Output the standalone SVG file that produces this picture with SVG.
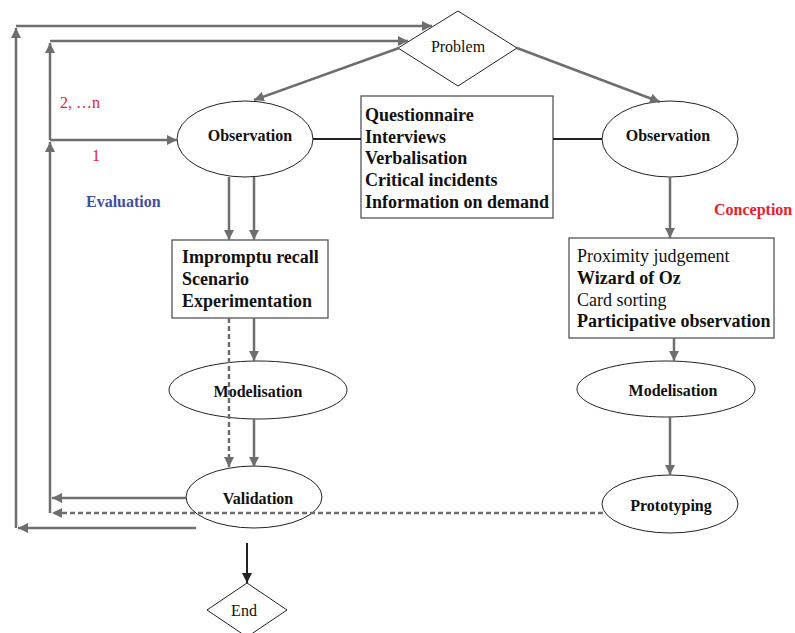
<svg xmlns="http://www.w3.org/2000/svg" width="795" height="633" viewBox="0 0 795 633">
  <style>
    .ln { fill: none; stroke: #6e6e6e; stroke-width: 2.5; }
    .dash { stroke-dasharray: 5 3; }
    .link { fill: none; stroke: #222; stroke-width: 2; }
    .node { fill: #fff; stroke: #222; stroke-width: 1; }
    .box { fill: #fff; stroke: #555; stroke-width: 1.3; }
    text { font-family: "Liberation Serif", "Times New Roman", serif; fill: #111; }
    .lbl { font-size: 16px; font-weight: bold; text-anchor: middle; }
    .reg { font-size: 16px; text-anchor: middle; }
    .item { font-size: 18px; }
    .b { font-weight: bold; }
    .note { font-size: 16px; text-anchor: start; }
    .red { fill: #e8202a; }
    .blue { fill: #3f4fa8; }
  </style>
  <defs>
    <marker id="ah" markerUnits="userSpaceOnUse" markerWidth="10" markerHeight="10" refX="10" refY="5" orient="auto">
      <path d="M0,0 L10,5 L0,10 z" fill="#6e6e6e"/>
    </marker>
    <marker id="ahk" markerUnits="userSpaceOnUse" markerWidth="10" markerHeight="10" refX="10" refY="5" orient="auto">
      <path d="M0,0 L10,5 L0,10 z" fill="#222"/>
    </marker>
  </defs>

  <g id="problem">
    <polygon class="node" points="458,11 517,48 458,86 398,48"/>
    <text class="reg" x="458" y="52">Problem</text>
  </g>

  <g id="observation-left">
    <ellipse class="node" cx="245" cy="139" rx="68" ry="38"/>
    <text class="lbl" x="250" y="141">Observation</text>
  </g>

  <g id="observation-right">
    <ellipse class="node" cx="670" cy="139" rx="68" ry="38"/>
    <text class="lbl" x="668" y="141">Observation</text>
  </g>

  <g id="methods">
    <rect class="box" x="361" y="96" width="192" height="122"/>
    <text class="item b" x="365" y="121">Questionnaire</text>
    <text class="item b" x="365" y="143">Interviews</text>
    <text class="item b" x="365" y="164">Verbalisation</text>
    <text class="item b" x="365" y="186">Critical incidents</text>
    <text class="item b" x="365" y="208">Information on demand</text>
  </g>

  <g id="evaluation-methods">
    <rect class="box" x="172" y="240" width="156" height="78"/>
    <text class="item b" x="182" y="263">Impromptu recall</text>
    <text class="item b" x="182" y="285">Scenario</text>
    <text class="item b" x="182" y="307">Experimentation</text>
  </g>

  <g id="conception-methods">
    <rect class="box" x="569" y="238" width="205" height="100"/>
    <text class="item" x="577" y="262">Proximity judgement</text>
    <text class="item b" x="577" y="284">Wizard of Oz</text>
    <text class="item" x="577" y="306">Card sorting</text>
    <text class="item b" x="577" y="327">Participative observation</text>
  </g>

  <g id="modelisation-left">
    <ellipse class="node" cx="258" cy="390" rx="89" ry="29"/>
    <text class="lbl" x="258" y="397">Modelisation</text>
  </g>

  <g id="modelisation-right">
    <ellipse class="node" cx="666" cy="389" rx="89" ry="28"/>
    <text class="lbl" x="673" y="396">Modelisation</text>
  </g>

  <g id="validation">
    <ellipse class="node" cx="254" cy="497" rx="68" ry="31"/>
    <text class="lbl" x="258" y="504">Validation</text>
  </g>

  <g id="prototyping">
    <ellipse class="node" cx="670" cy="504" rx="68" ry="29"/>
    <text class="lbl" x="671" y="511">Prototyping</text>
  </g>

  <g id="end">
    <polygon class="node" points="247,583 287,610 247,637 207,610"/>
    <text class="reg" x="244" y="616">End</text>
  </g>

  <!-- connectors, drawn over the nodes so the dashed returns show through -->
  <g id="connectors">
    <!-- outer loop back to Problem -->
    <path class="ln" d="M196,528 L18,528" marker-end="url(#ah)"/>
    <path class="ln" d="M16,528 L16,28" marker-end="url(#ah)"/>
    <path class="ln" d="M16,26 L432,26" marker-end="url(#ah)"/>
    <!-- inner loop -->
    <path class="ln" d="M186,498 L52,498" marker-end="url(#ah)"/>
    <path class="ln dash" d="M603,513 L52,513" marker-end="url(#ah)"/>
    <path class="ln" d="M50,513 L50,142" marker-end="url(#ah)"/>
    <path class="ln" d="M50,140 L50,43" marker-end="url(#ah)"/>
    <path class="ln" d="M50,41 L408,41" marker-end="url(#ah)"/>
    <path class="ln" d="M50,140 L177,140" marker-end="url(#ah)"/>
    <!-- Problem to both observations -->
    <path class="ln" d="M399,48 L254,100" marker-end="url(#ah)"/>
    <path class="ln" d="M517,48 L660,102" marker-end="url(#ah)"/>
    <!-- methods links -->
    <path class="link" d="M313,139 L361,139"/>
    <path class="link" d="M553,139 L602,139"/>
    <!-- evaluation branch -->
    <path class="ln" d="M229,177 L229,240" marker-end="url(#ah)"/>
    <path class="ln" d="M254,177 L254,240" marker-end="url(#ah)"/>
    <path class="ln" d="M254,318 L254,361" marker-end="url(#ah)"/>
    <path class="ln dash" d="M229,318 L229,467" marker-end="url(#ah)"/>
    <path class="ln" d="M254,419 L254,467" marker-end="url(#ah)"/>
    <path class="link" d="M247,543 L247,583" stroke-width="2.5" marker-end="url(#ahk)"/>
    <!-- conception branch -->
    <path class="ln" d="M670,177 L670,238" marker-end="url(#ah)"/>
    <path class="ln" d="M674,338 L674,361" marker-end="url(#ah)"/>
    <path class="ln" d="M670,417 L670,475" marker-end="url(#ah)"/>
  </g>

  <g id="labels">
    <text class="note red" x="60" y="108">2, …n</text>
    <text class="note red" x="92" y="161">1</text>
    <text class="note b blue" x="86" y="207">Evaluation</text>
    <text class="note b red" x="714" y="215">Conception</text>
  </g>
</svg>
